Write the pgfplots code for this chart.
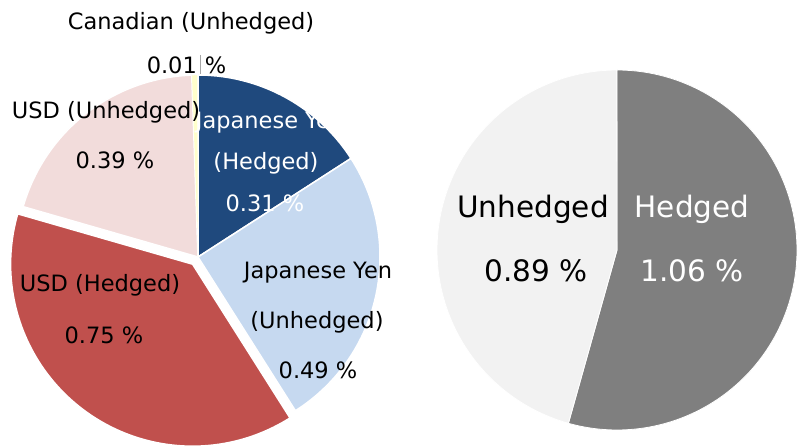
\documentclass[border=0pt]{standalone}
\usepackage{pgfplots}
\pgfplotsset{compat=1.18}
\usepackage{fontspec}
\setmainfont{DejaVu Sans}
\definecolor{jyh}{HTML}{1F497D}
\definecolor{jyu}{HTML}{C6D9F0}
\definecolor{usdh}{HTML}{C0504D}
\definecolor{usdu}{HTML}{F2DCDB}
\definecolor{cad}{HTML}{FFFFCC}
\definecolor{hed}{HTML}{7F7F7F}
\definecolor{unh}{HTML}{F2F2F2}
% data (per cent)
\def\vJYH{0.31}\def\vJYU{0.49}\def\vUSDH{0.75}\def\vUSDU{0.39}\def\vCAD{0.01}
\def\vH{1.06}\def\vU{0.89}
\newcommand\pieslice[6]{%
  \gdef\pts{}%
  \pgfmathtruncatemacro\n{max(4,abs(#5-#4)/1.5)}%
  \pgfmathsetmacro\stp{(#5-#4)/\n}%
  \foreach \i in {0,...,\n}{%
    \pgfmathsetmacro\ang{#4+\stp*\i}%
    \pgfmathsetmacro\px{#1+#3*cos(\ang)}%
    \pgfmathsetmacro\py{#2+#3*sin(\ang)}%
    \xdef\pts{\pts(\px,\py)}%
  }%
  \edef\tmp{\noexpand\addplot[#6] coordinates {(#1,#2)\pts} -- cycle;}%
  \tmp
}
\begin{document}
\begin{tikzpicture}
\begin{axis}[x=1pt,y=1pt,xmin=0,xmax=802,ymin=0,ymax=443,
  scale only axis, hide axis, clip=false]
\path (axis cs:0,0) rectangle (axis cs:802,443);
% left pie
\pgfmathsetmacro\tot{\vJYH+\vJYU+\vUSDH+\vUSDU+\vCAD}
\pgfmathsetmacro\aA{90}
\pgfmathsetmacro\aB{\aA-\vJYH/\tot*360}
\pgfmathsetmacro\aC{\aB-\vJYU/\tot*360}
\pgfmathsetmacro\aD{\aC-\vUSDH/\tot*360}
\pgfmathsetmacro\aE{\aD-\vUSDU/\tot*360}
\pgfmathsetmacro\aF{\aE-\vCAD/\tot*360}
\pgfmathsetmacro\midang{(\aC+\aD)/2}
\pgfmathsetmacro\ex{198+9*cos(\midang)}
\pgfmathsetmacro\ey{186+9*sin(\midang)}
\pieslice{198}{186}{182}{\aA}{\aB}{fill=jyh,draw=white,line width=1.5pt}
\pieslice{198}{186}{182}{\aB}{\aC}{fill=jyu,draw=white,line width=1.5pt}
\pieslice{\ex}{\ey}{182}{\aC}{\aD}{fill=usdh,draw=white,line width=1.5pt}
\pieslice{198}{186}{182}{\aD}{\aE}{fill=usdu,draw=white,line width=1.5pt}
\pieslice{198}{186}{182}{\aE}{\aF}{fill=cad,draw=white,line width=0.4pt}
\addplot[gray!70,line width=0.6pt] coordinates {(200.5,388) (200.5,369)};
% right pie
\pgfmathsetmacro\totb{\vH+\vU}
\pgfmathsetmacro\bA{90}
\pgfmathsetmacro\bB{\bA-\vH/\totb*360}
\pgfmathsetmacro\bC{\bB-\vU/\totb*360}
\pieslice{617}{193}{180}{\bA}{\bB}{fill=hed,draw=white,line width=0.8pt}
\pieslice{617}{193}{180}{\bB}{\bC}{fill=unh,draw=white,line width=0.8pt}
% labels
\begin{scope}[every node/.style={font=\fontsize{22.5}{22.5}\selectfont, inner sep=0pt}]
\node at (axis cs:191,420) {Canadian (Unhedged)};
\node at (axis cs:186.5,378) {0.01\hspace{8pt}\%};
\node at (axis cs:106,331) {USD (Unhedged)};
\node at (axis cs:115,283) {0.39 \%};
\node[white] at (axis cs:270,320) {Japanese Yen};
\node[white] at (axis cs:266,280) {(Hedged)};
\node[white] at (axis cs:265,240) {0.31 \%};
\node at (axis cs:318,170) {Japanese Yen};
\node at (axis cs:317,121) {(Unhedged)};
\node at (axis cs:318,73) {0.49 \%};
\node at (axis cs:100,158) {USD (Hedged)};
\node at (axis cs:104,108) {0.75 \%};
\end{scope}
\begin{scope}[every node/.style={font=\fontsize{29.5}{29.5}\selectfont, inner sep=0pt}]
\node at (axis cs:533,234) {Unhedged};
\node at (axis cs:536,172) {0.89 \%};
\node[white] at (axis cs:692,234) {Hedged};
\node[white] at (axis cs:692,172) {1.06 \%};
\end{scope}
\end{axis}
\end{tikzpicture}
\end{document}
